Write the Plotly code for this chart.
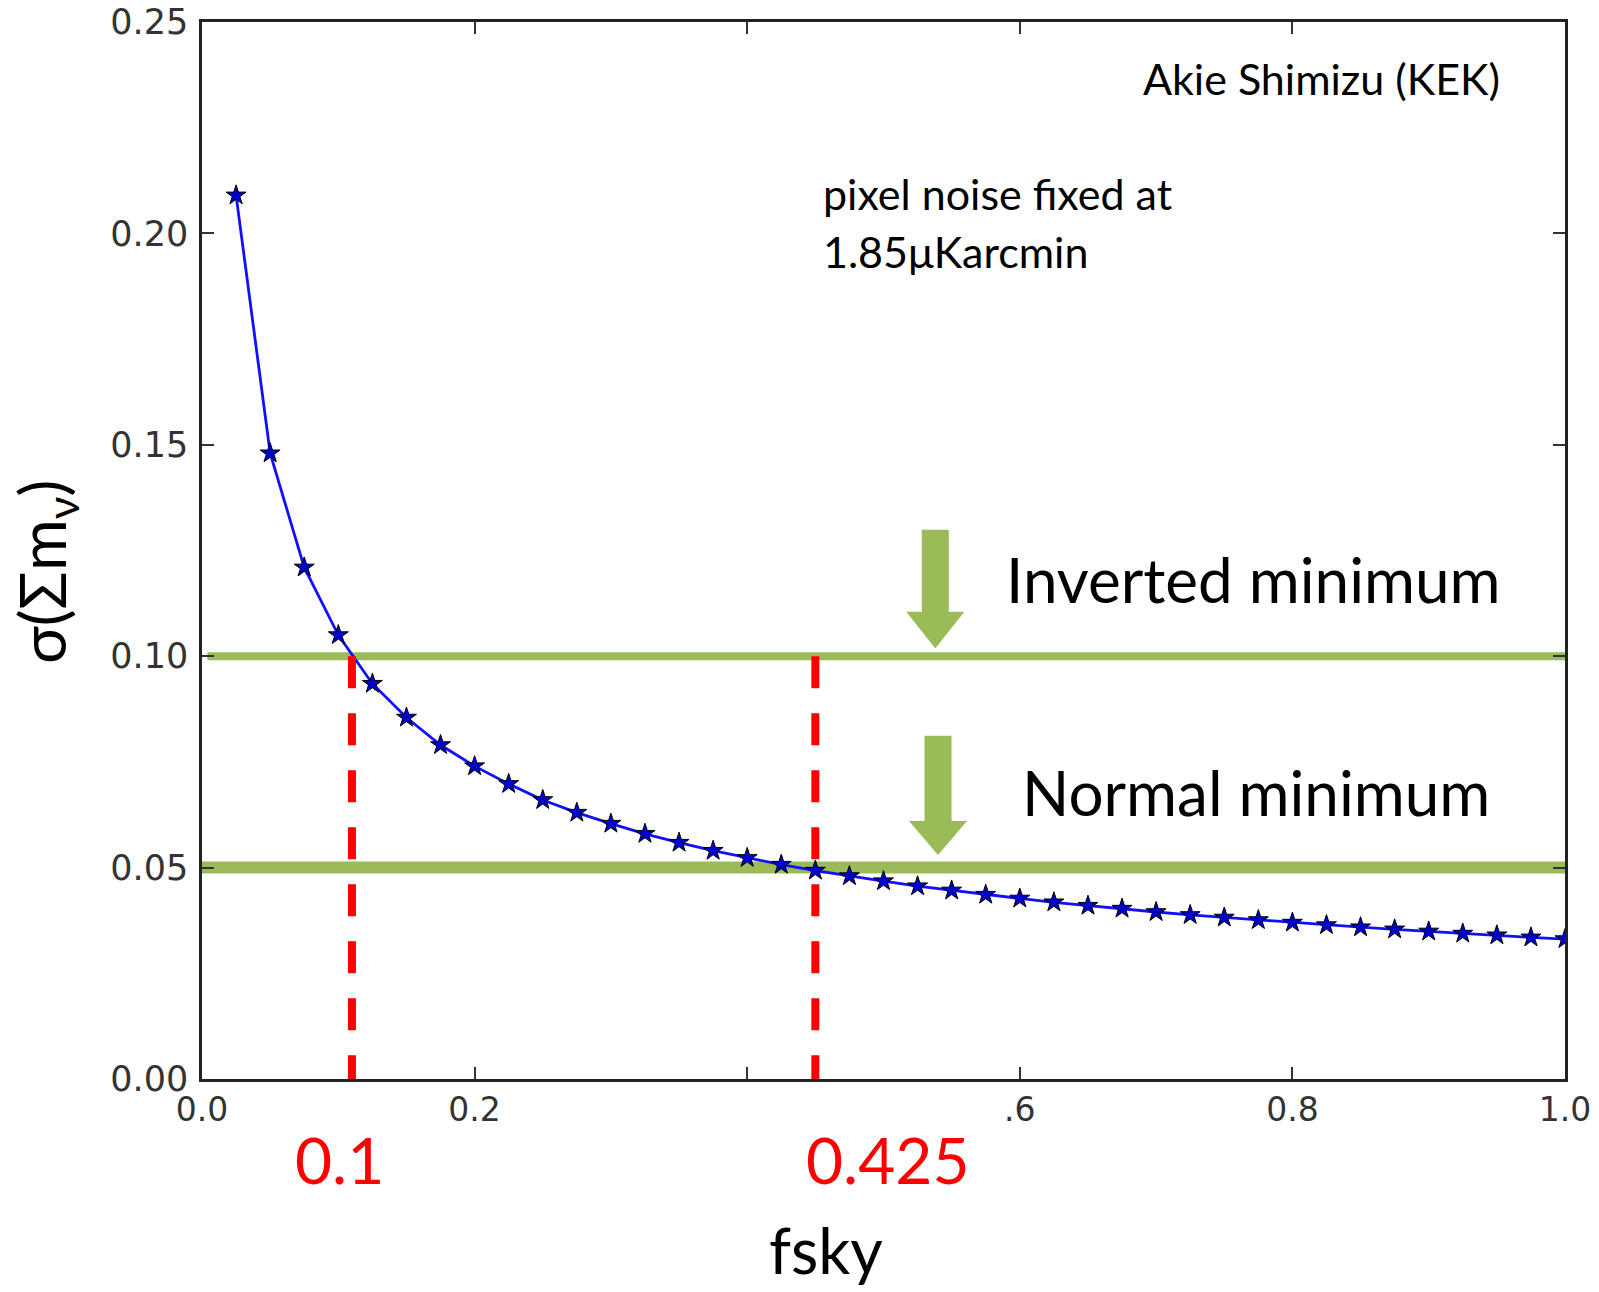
import plotly.graph_objects as go

# ---- data ----
fsky = [0.025, 0.05, 0.075, 0.1, 0.125, 0.15, 0.175, 0.2, 0.225, 0.25,
        0.275, 0.3, 0.325, 0.35, 0.375, 0.4, 0.425, 0.45, 0.475, 0.5,
        0.525, 0.55, 0.575, 0.6, 0.625, 0.65, 0.675, 0.7, 0.725, 0.75,
        0.775, 0.8, 0.825, 0.85, 0.875, 0.9, 0.925, 0.95, 0.975, 1.0]
sigma = [0.209, 0.148, 0.121, 0.105, 0.0935, 0.0855, 0.079, 0.074, 0.0698, 0.066,
         0.063, 0.0604, 0.058, 0.0559, 0.054, 0.0523, 0.0507, 0.0493, 0.048, 0.0468,
         0.0456, 0.0446, 0.0436, 0.0427, 0.0418, 0.041, 0.0403, 0.0395, 0.0388, 0.0382,
         0.0376, 0.037, 0.0364, 0.0359, 0.0354, 0.0349, 0.0344, 0.034, 0.0335, 0.0331]

hlines_y = [0.10, 0.05]
hlines_x0 = [0.004, 0.0]
hline_widths = [8, 12]
vlines_x = [0.11, 0.45]
vline_top = 0.10
vline_labels = ["0.1", "0.425"]
vline_label_x = [0.101, 0.503]
level_labels = ["Inverted minimum", "Normal minimum"]

xtick_vals = [0.0, 0.2, 0.4, 0.6, 0.8, 1.0]
xtick_text = ["0.0", "0.2", "", ".6", "0.8", "1.0"]
ytick_vals = [0.0, 0.05, 0.10, 0.15, 0.20, 0.25]
ytick_text = ["0.00", "0.05", "0.10", "0.15", "0.20", "0.25"]

GREEN = "#9BBB59"
RED = "#FF0000"

fig = go.Figure()

for y, x0, w in zip(hlines_y, hlines_x0, hline_widths):
    fig.add_trace(go.Scatter(x=[x0, 1.0], y=[y, y], mode="lines",
                             line=dict(color=GREEN, width=w), hoverinfo="skip"))

fig.add_trace(go.Scatter(x=fsky, y=sigma, mode="lines+markers",
                         line=dict(color="#1010FF", width=2.8),
                         marker=dict(symbol="star", size=15, color="#0000CC",
                                     line=dict(color="#000000", width=1))))

for x in vlines_x:
    fig.add_trace(go.Scatter(x=[x, x], y=[vline_top, 0.0], mode="lines",
                             line=dict(color=RED, width=8, dash="32px,25px"),
                             hoverinfo="skip"))

# green arrows (shape paths in data coordinates)
arrows = [  # center x, top y, head-start y, tip y
    (0.538, 0.1299, 0.1105, 0.1018),
    (0.540, 0.0812, 0.0610, 0.0530),
]
shaft_hw = 0.0099
head_hw = 0.0213
for cx, top, hs, tip in arrows:
    path = (f"M {cx-shaft_hw},{top} L {cx+shaft_hw},{top} L {cx+shaft_hw},{hs} "
            f"L {cx+head_hw},{hs} L {cx},{tip} L {cx-head_hw},{hs} L {cx-shaft_hw},{hs} Z")
    fig.add_shape(type="path", path=path, xref="x", yref="y",
                  fillcolor=GREEN, line=dict(width=0), layer="above")

FONT = "Lato"
ann = []
ann.append(dict(x=0.954, y=0.2366, xref="x", yref="y", text="Akie Shimizu (KEK)",
                xanchor="right", yanchor="middle", showarrow=False,
                font=dict(family=FONT, size=43, color="#000")))
ann.append(dict(x=0.454, y=0.2094, xref="x", yref="y", text="pixel noise fixed at",
                xanchor="left", yanchor="middle", showarrow=False,
                font=dict(family=FONT, size=43, color="#000")))
ann.append(dict(x=0.454, y=0.1957, xref="x", yref="y", text="1.85μKarcmin",
                xanchor="left", yanchor="middle", showarrow=False,
                font=dict(family=FONT, size=43, color="#000")))
for txt, xx, yy in zip(level_labels, [0.5884, 0.600], [0.1183, 0.0679]):
    ann.append(dict(x=xx, y=yy, xref="x", yref="y", text=txt,
                    xanchor="left", yanchor="middle", showarrow=False,
                    font=dict(family=FONT, size=62, color="#000")))
for txt, xx in zip(vline_labels, vline_label_x):
    ann.append(dict(x=xx, y=-0.076, xref="x", yref="paper", text=txt,
                    xanchor="center", yanchor="middle",
                    showarrow=False, font=dict(family=FONT, size=64, color=RED)))
ann.append(dict(x=0.458, y=-0.161, xref="paper", yref="paper", text="fsky",
                xanchor="center", yanchor="middle", showarrow=False,
                font=dict(family=FONT, size=63, color="#000")))
ann.append(dict(x=-0.115, y=0.48, xref="paper", yref="paper",
                text="σ(Σm<sub>ν</sub>)", textangle=-90,
                xanchor="center", yanchor="middle", showarrow=False,
                font=dict(family=FONT, size=63, color="#000")))

axis_common = dict(showgrid=False, zeroline=False, showline=True, linecolor="#222",
                   linewidth=2.5, mirror="ticks", ticks="inside", ticklen=12,
                   tickwidth=1.5, tickcolor="#333", automargin=False,
                   ticklabeloverflow="allow")

fig.update_layout(
    width=1599, height=1292,
    margin=dict(l=202, r=34, t=22, b=213),
    paper_bgcolor="white", plot_bgcolor="white",
    showlegend=False,
    annotations=ann,
    xaxis=dict(range=[0, 1.0], tickvals=xtick_vals, ticktext=xtick_text,
               ticklabelstandoff=0,
               tickfont=dict(family="DejaVu Sans", size=33, color="#333"),
               **axis_common),
    yaxis=dict(range=[0, 0.25], tickvals=ytick_vals, ticktext=ytick_text,
               ticklabelstandoff=4,
               tickfont=dict(family="DejaVu Sans", size=35, color="#333"),
               **axis_common),
)

fig.write_html("out.html", config={"displayModeBar": False},
               post_script="document.body.style.margin='0px';"
                           "document.body.style.overflow='hidden';")
